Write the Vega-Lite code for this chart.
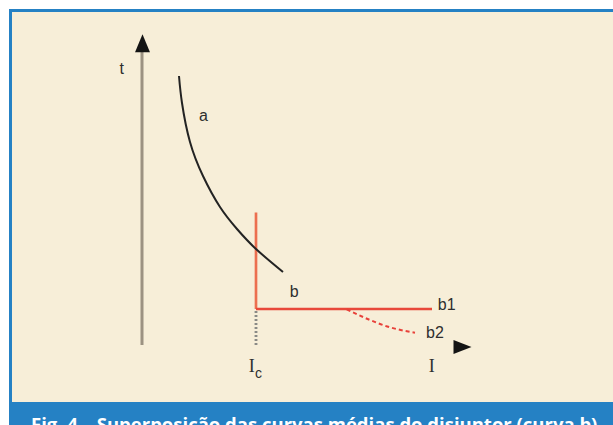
{
  "$schema": "https://vega.github.io/schema/vega-lite/v6.json",
  "width": 613,
  "height": 425,
  "padding": 0,
  "autosize": {"type": "none"},
  "background": "#ffffff",
  "config": {"view": {"stroke": null}},
  "datasets": {
    "panels": [
      {"part": "frame", "x0": 0.9, "x1": 61.5, "y0": -1, "y1": 41.6},
      {"part": "panel", "x0": 1.2, "x1": 61.5, "y0": 2.3, "y1": 41.3}
    ],
    "segments": [
      {"part": "t axis", "x0": 14.2, "x1": 14.2, "y0": 8.0, "y1": 37.3},
      {"part": "pickup", "x0": 25.6, "x1": 25.6, "y0": 11.4, "y1": 8.0},
      {"part": "b vertical", "x0": 25.6, "x1": 25.6, "y0": 21.25, "y1": 11.6},
      {"part": "b1", "x0": 25.6, "x1": 43.2, "y0": 11.6, "y1": 11.6}
    ],
    "curveA": [
      {"i": 17.9, "t": 34.9},
      {"i": 18.2, "t": 32.2},
      {"i": 19.0, "t": 28.3},
      {"i": 20.3, "t": 24.9},
      {"i": 22.0, "t": 21.8},
      {"i": 23.7, "t": 19.6},
      {"i": 25.6, "t": 17.6},
      {"i": 28.3, "t": 15.3}
    ],
    "curveB2": [
      {"i": 34.67, "t": 11.57},
      {"i": 37.0, "t": 10.5},
      {"i": 39.0, "t": 9.77},
      {"i": 41.5, "t": 9.23}
    ],
    "arrows": [
      {"dir": "up", "i": 14.25, "t": 38.18},
      {"dir": "right", "i": 46.25, "t": 7.8}
    ],
    "labels": [
      {"txt": "t", "i": 12.17, "t": 35.57},
      {"txt": "a", "i": 20.35, "t": 30.95},
      {"txt": "b", "i": 29.43, "t": 13.33},
      {"txt": "b1", "i": 44.67, "t": 12.0},
      {"txt": "b2", "i": 43.5, "t": 9.17}
    ],
    "serifLabels": [
      {"txt": "I", "i": 25.17, "t": 5.83},
      {"txt": "I", "i": 43.17, "t": 5.83}
    ],
    "subscripts": [
      {"txt": "c", "i": 25.85, "t": 5.1}
    ],
    "caption": [
      {"txt": "Fig. 4 – Superposição das curvas médias do disjuntor (curva b)", "i": 3.1, "t": -0.55}
    ]
  },
  "layer": [
    {
      "data": {"name": "panels"},
      "mark": {"type": "rect", "clip": false},
      "encoding": {
        "x": {"field": "x0", "type": "quantitative", "scale": {"domain": [0, 61.3], "nice": false, "zero": false}, "axis": null},
        "x2": {"field": "x1"},
        "y": {"field": "y0", "type": "quantitative", "scale": {"domain": [0, 42.5], "nice": false, "zero": false}, "axis": null},
        "y2": {"field": "y1"},
        "color": {"field": "part", "type": "nominal", "legend": null,
          "scale": {"domain": ["frame", "panel"], "range": ["#2581c4", "#f7eed8"]}}
      }
    },
    {
      "data": {"name": "segments"},
      "mark": {"type": "rule"},
      "encoding": {
        "x": {"field": "x0", "type": "quantitative"},
        "x2": {"field": "x1"},
        "y": {"field": "y0", "type": "quantitative"},
        "y2": {"field": "y1"},
        "stroke": {"field": "part", "type": "nominal", "legend": null,
          "scale": {"domain": ["t axis", "pickup", "b vertical", "b1"],
                    "range": ["#9c9282", "#8a8a86", "#ec6f4f", "#e8483a"]}},
        "strokeDash": {"field": "part", "type": "nominal", "legend": null,
          "scale": {"domain": ["t axis", "pickup", "b vertical", "b1"],
                    "range": [[1, 0], [2, 2], [1, 0], [1, 0]]}},
        "strokeWidth": {"field": "part", "type": "nominal", "legend": null,
          "scale": {"domain": ["t axis", "pickup", "b vertical", "b1"],
                    "range": [3, 2.5, 2.5, 2]}}
      }
    },
    {
      "data": {"name": "curveA"},
      "mark": {"type": "line", "interpolate": "natural", "color": "#232323", "strokeWidth": 2},
      "encoding": {
        "x": {"field": "i", "type": "quantitative"},
        "y": {"field": "t", "type": "quantitative"},
        "order": {"field": "i", "type": "quantitative"}
      }
    },
    {
      "data": {"name": "curveB2"},
      "mark": {"type": "line", "interpolate": "monotone", "color": "#e8413a", "strokeWidth": 2, "strokeDash": [4, 3]},
      "encoding": {
        "x": {"field": "i", "type": "quantitative"},
        "y": {"field": "t", "type": "quantitative"},
        "order": {"field": "i", "type": "quantitative"}
      }
    },
    {
      "data": {"name": "arrows"},
      "mark": {"type": "point", "filled": true, "opacity": 1, "size": 324, "color": "#141414"},
      "encoding": {
        "x": {"field": "i", "type": "quantitative"},
        "y": {"field": "t", "type": "quantitative"},
        "shape": {"field": "dir", "type": "nominal", "legend": null,
          "scale": {"domain": ["up", "right"],
                    "range": ["M-0.83,1L0,-1L0.83,1Z", "M-1,-0.78L1,0L-1,0.78Z"]}}
      }
    },
    {
      "data": {"name": "labels"},
      "mark": {"type": "text", "font": "Liberation Sans", "fontSize": 16, "color": "#2e2e2e", "align": "center", "baseline": "middle"},
      "encoding": {
        "x": {"field": "i", "type": "quantitative"},
        "y": {"field": "t", "type": "quantitative"},
        "text": {"field": "txt"}
      }
    },
    {
      "data": {"name": "serifLabels"},
      "mark": {"type": "text", "font": "Liberation Serif", "fontSize": 18, "color": "#2e2e2e", "align": "center", "baseline": "middle"},
      "encoding": {
        "x": {"field": "i", "type": "quantitative"},
        "y": {"field": "t", "type": "quantitative"},
        "text": {"field": "txt"}
      }
    },
    {
      "data": {"name": "subscripts"},
      "mark": {"type": "text", "font": "Liberation Sans", "fontSize": 14, "color": "#2e2e2e", "align": "center", "baseline": "middle"},
      "encoding": {
        "x": {"field": "i", "type": "quantitative"},
        "y": {"field": "t", "type": "quantitative"},
        "text": {"field": "txt"}
      }
    },
    {
      "data": {"name": "caption"},
      "mark": {"type": "text", "font": "Open Sans", "fontWeight": "bold", "fontSize": 18.5, "color": "#ffffff", "align": "left", "baseline": "alphabetic", "clip": false},
      "encoding": {
        "x": {"field": "i", "type": "quantitative"},
        "y": {"field": "t", "type": "quantitative"},
        "text": {"field": "txt"}
      }
    }
  ]
}
